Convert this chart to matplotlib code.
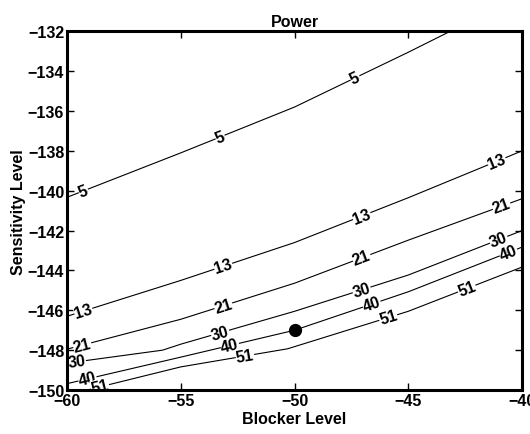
import numpy as np
import matplotlib
matplotlib.use('Agg')
import matplotlib.pyplot as plt

plt.rcParams['font.family'] = ['Liberation Sans', 'DejaVu Sans']
plt.rcParams['font.weight'] = 'bold'

# contour lines (Blocker Level -> Sensitivity Level)
x5 = [-60, -55, -50, -45, -40]
y5 = [-140.33, -138.1, -135.8, -133.05, -130.2]
x13 = [-60, -55, -50, -45, -40]
y13 = [-146.3, -144.5, -142.6, -140.35, -138.0]
x21 = [-60, -55, -50, -45, -40]
y21 = [-147.95, -146.45, -144.64, -142.48, -140.4]
x30 = [-60, -55.8, -55, -50, -45, -40]
y30 = [-148.65, -148.0, -147.7, -146.05, -144.23, -142.0]
x40 = [-60, -55, -50, -45, -40]
y40 = [-149.68, -148.35, -147.0, -145.07, -142.83]
x51 = [-60, -55, -50.3, -45, -40]
y51 = [-150.25, -148.84, -147.93, -146.05, -143.83]

levels = [5, 13, 21, 30, 40, 51]
lines_x = [x5, x13, x21, x30, x40, x51]
lines_y = [y5, y13, y21, y30, y40, y51]

# where the clabel texts sit (blocker level)
label_x = [
    [-59.28, -53.27, -47.34],
    [-59.28, -53.13, -47.05, -41.11],
    [-59.33, -53.13, -47.05, -40.9],
    [-59.57, -53.27, -47.05, -41.03],
    [-59.1, -52.84, -46.61, -40.6],
    [-58.55, -52.18, -45.88, -42.43],
]

point_x = [-50]
point_y = [-147]

fig = plt.figure(figsize=(5.3, 4.35), dpi=100)
ax = fig.add_axes([0.1264, 0.1011, 0.8586, 0.8246])

for lev, xs, ys, lxs in zip(levels, lines_x, lines_y, label_x):
    ax.plot(xs, ys, color='black', lw=0.8, zorder=1)
    for lx in lxs:
        ly = np.interp(lx, xs, ys)
        d = 0.3
        ang = np.degrees(np.arctan2(np.interp(lx + d, xs, ys) - np.interp(lx - d, xs, ys), 2 * d))
        ax.text(lx, ly, str(lev), fontsize=11.5, fontweight='bold', ha='center', va='center',
                rotation=ang, rotation_mode='anchor', transform_rotates_text=True,
                bbox=dict(facecolor='white', edgecolor='none', pad=0.2),
                clip_on=True, zorder=2)

ax.plot(point_x, point_y, 'o', color='black', markersize=8.5, zorder=3)

ax.set_xlim(-60, -40)
ax.set_ylim(-150, -132)
ax.set_xticks([-60, -55, -50, -45, -40])
ax.set_yticks(np.arange(-150, -131, 2))
ax.tick_params(direction='in', top=True, right=True, length=5, width=1,
               labelsize=11.5, pad=2)
for lab in ax.get_xticklabels() + ax.get_yticklabels():
    lab.set_fontweight('bold')
for s in ax.spines.values():
    s.set_linewidth(2.2)

ax.set_title('Power', fontsize=11.5, fontweight='bold', pad=4)
ax.set_xlabel('Blocker Level', fontsize=11.5, fontweight='bold', labelpad=2)
ax.set_ylabel('Sensitivity Level', fontsize=11.5, fontweight='bold', labelpad=1)

fig.savefig('out.png', dpi=100)
